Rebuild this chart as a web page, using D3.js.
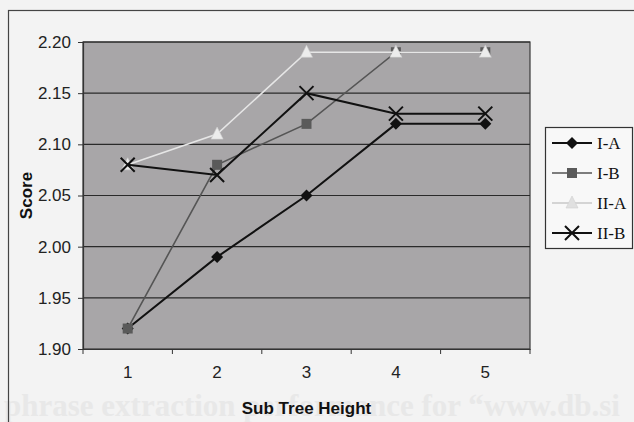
<!DOCTYPE html>
<html>
<head>
<meta charset="utf-8">
<script src="https://cdn.jsdelivr.net/npm/d3@7"></script>
<style>
  body { margin: 0; background: #f3f3f3; }
  svg { display: block; }
</style>
</head>
<body>
<svg id="chart" width="634" height="422"></svg>
<script>
// Data
const heights = [1, 2, 3, 4, 5]
const seriesNames = ["I-A", "I-B", "II-A", "II-B"]
const scoresIA  = [1.92, 1.99, 2.05, 2.12, 2.12]
const scoresIB  = [1.92, 2.08, 2.12, 2.19, 2.19]
const scoresIIA = [2.08, 2.11, 2.19, 2.19, 2.19]
const scoresIIB = [2.08, 2.07, 2.15, 2.13, 2.13]
const yTicks = [1.90, 1.95, 2.00, 2.05, 2.10, 2.15, 2.20]

// Styles per series (drawn in this order)
const styles = {
    "I-A":  {stroke: "#111", width: 2,   marker: "diamond",  fill: "#111"},
    "I-B":  {stroke: "#555", width: 1.6, marker: "square",   fill: "#5a5a5a"},
    "II-A": {stroke: "#e6e6e6", width: 1.6, marker: "triangle", fill: "#ececec"},
    "II-B": {stroke: "#111", width: 2,   marker: "cross",    fill: "none"}
}
const seriesData = {"I-A": scoresIA, "I-B": scoresIB, "II-A": scoresIIA, "II-B": scoresIIB}

const svg = d3.select("#chart")
const plot = {left: 83, right: 530, top: 42, bottom: 349}

// ghost bleed-through from the scanned page
svg.append("text")
    .attr("x", 4).attr("y", 416)
    .attr("font-family", "Liberation Serif, serif")
    .attr("font-weight", "bold")
    .attr("font-size", 31)
    .attr("fill", "#e8e8e8")
    .text("phrase extraction performance for \u201cwww.db.si")

// chart frame
svg.append("rect")
    .attr("x", 8.5).attr("y", 10.5)
    .attr("width", 640).attr("height", 430)
    .attr("fill", "none")
    .attr("stroke", "#444")
    .attr("stroke-width", 1.2)

const x = d3.scaleBand().domain(heights).range([plot.left, plot.right])
const y = d3.scaleLinear().domain([1.90, 2.20]).range([plot.bottom, plot.top])

// plot area
svg.append("rect")
    .attr("x", plot.left).attr("y", plot.top)
    .attr("width", plot.right - plot.left).attr("height", plot.bottom - plot.top)
    .attr("fill", "#a8a6a8")
    .attr("stroke", "#3a3a3a")
    .attr("stroke-width", 1.2)

svg.append("g").selectAll("line")
    .data(yTicks.slice(1))
    .join("line")
    .attr("x1", plot.left).attr("x2", plot.right)
    .attr("y1", d => y(d)).attr("y2", d => y(d))
    .attr("stroke", "#2a2a2a")
    .attr("stroke-width", 1.2)

// axes
const yAxis = svg.append("g")
    .attr("transform", `translate(${plot.left},0)`)
    .call(d3.axisLeft(y).tickValues(yTicks).tickFormat(d3.format(".2f")).tickSize(5).tickPadding(7))
yAxis.select(".domain").attr("stroke", "#333").attr("stroke-width", 1.2)
yAxis.selectAll(".tick line").attr("stroke", "#333")
yAxis.selectAll("text")
    .attr("font-family", "Liberation Sans, Arial, sans-serif")
    .attr("font-size", 17)
    .attr("fill", "#222")

const xAxis = svg.append("g")
    .attr("transform", `translate(0,${plot.bottom})`)
    .call(d3.axisBottom(x).tickSize(0).tickPadding(17))
xAxis.select(".domain").attr("stroke", "#333").attr("stroke-width", 1.2)
xAxis.selectAll("text")
    .attr("font-family", "Liberation Sans, Arial, sans-serif")
    .attr("font-size", 17)
    .attr("fill", "#222")
// category boundary ticks
xAxis.selectAll(".bound")
    .data(heights.concat([null]))
    .join("line")
    .attr("class", "bound")
    .attr("x1", (d, i) => plot.left + i * x.step())
    .attr("x2", (d, i) => plot.left + i * x.step())
    .attr("y1", 0).attr("y2", 5)
    .attr("stroke", "#333")

// axis titles
svg.append("text")
    .attr("transform", `translate(32,${(plot.top + plot.bottom) / 2}) rotate(-90)`)
    .attr("text-anchor", "middle")
    .attr("font-family", "Liberation Sans, Arial, sans-serif")
    .attr("font-weight", "bold")
    .attr("font-size", 17)
    .attr("fill", "#111")
    .text("Score")

svg.append("text")
    .attr("x", (plot.left + plot.right) / 2)
    .attr("y", 414)
    .attr("text-anchor", "middle")
    .attr("font-family", "Liberation Sans, Arial, sans-serif")
    .attr("font-weight", "bold")
    .attr("font-size", 17)
    .attr("fill", "#111")
    .text("Sub Tree Height")

// markers
function drawMarker(g, type, cx, cy, st){
    if(type === "diamond"){
        g.append("path")
            .attr("d", `M${cx},${cy-6}L${cx+6},${cy}L${cx},${cy+6}L${cx-6},${cy}Z`)
            .attr("fill", st.fill)
    } else if(type === "square"){
        g.append("rect")
            .attr("x", cx - 5).attr("y", cy - 5)
            .attr("width", 10).attr("height", 10)
            .attr("fill", st.fill)
    } else if(type === "triangle"){
        g.append("path")
            .attr("d", `M${cx},${cy-7}L${cx+6},${cy+5}L${cx-6},${cy+5}Z`)
            .attr("fill", st.fill)
            .attr("stroke", "#d0d0d0")
            .attr("stroke-width", 0.6)
    } else {
        g.append("path")
            .attr("d", `M${cx-7},${cy-7}L${cx+7},${cy+7}M${cx+7},${cy-7}L${cx-7},${cy+7}`)
            .attr("stroke", st.stroke)
            .attr("stroke-width", 2)
    }
}

const line = d3.line()
    .x((d, i) => x(heights[i]) + x.bandwidth() / 2)
    .y(d => y(d))

seriesNames.forEach(name => {
    const st = styles[name]
    const vals = seriesData[name]
    const g = svg.append("g").attr("class", "series")
    g.append("path")
        .datum(vals)
        .attr("d", line)
        .attr("fill", "none")
        .attr("stroke", st.stroke)
        .attr("stroke-width", st.width)
    vals.forEach((v, i) => {
        drawMarker(g, st.marker, x(heights[i]) + x.bandwidth() / 2, y(v), st)
    })
})

// legend
const legend = svg.append("g")
legend.append("rect")
    .attr("x", 545.5).attr("y", 127.5)
    .attr("width", 87).attr("height", 121)
    .attr("fill", "#f8f8f8")
    .attr("stroke", "#333")
    .attr("stroke-width", 1.2)

const legendY = d3.scalePoint().domain(seriesNames).range([143, 233])
seriesNames.forEach(name => {
    const st = styles[name]
    const ly = legendY(name)
    legend.append("line")
        .attr("x1", 552).attr("x2", 592)
        .attr("y1", ly).attr("y2", ly)
        .attr("stroke", name === "II-A" ? "#c8c8c8" : st.stroke)
        .attr("stroke-width", st.width)
    drawMarker(legend, st.marker, 572, ly, name === "II-A" ? {fill: "#e0e0e0", stroke: "#ccc"} : st)
    legend.append("text")
        .attr("x", 597).attr("y", ly + 6)
        .attr("font-family", "Liberation Serif, Times New Roman, serif")
        .attr("font-size", 17)
        .attr("fill", "#111")
        .text(name)
})
</script>
</body>
</html>
